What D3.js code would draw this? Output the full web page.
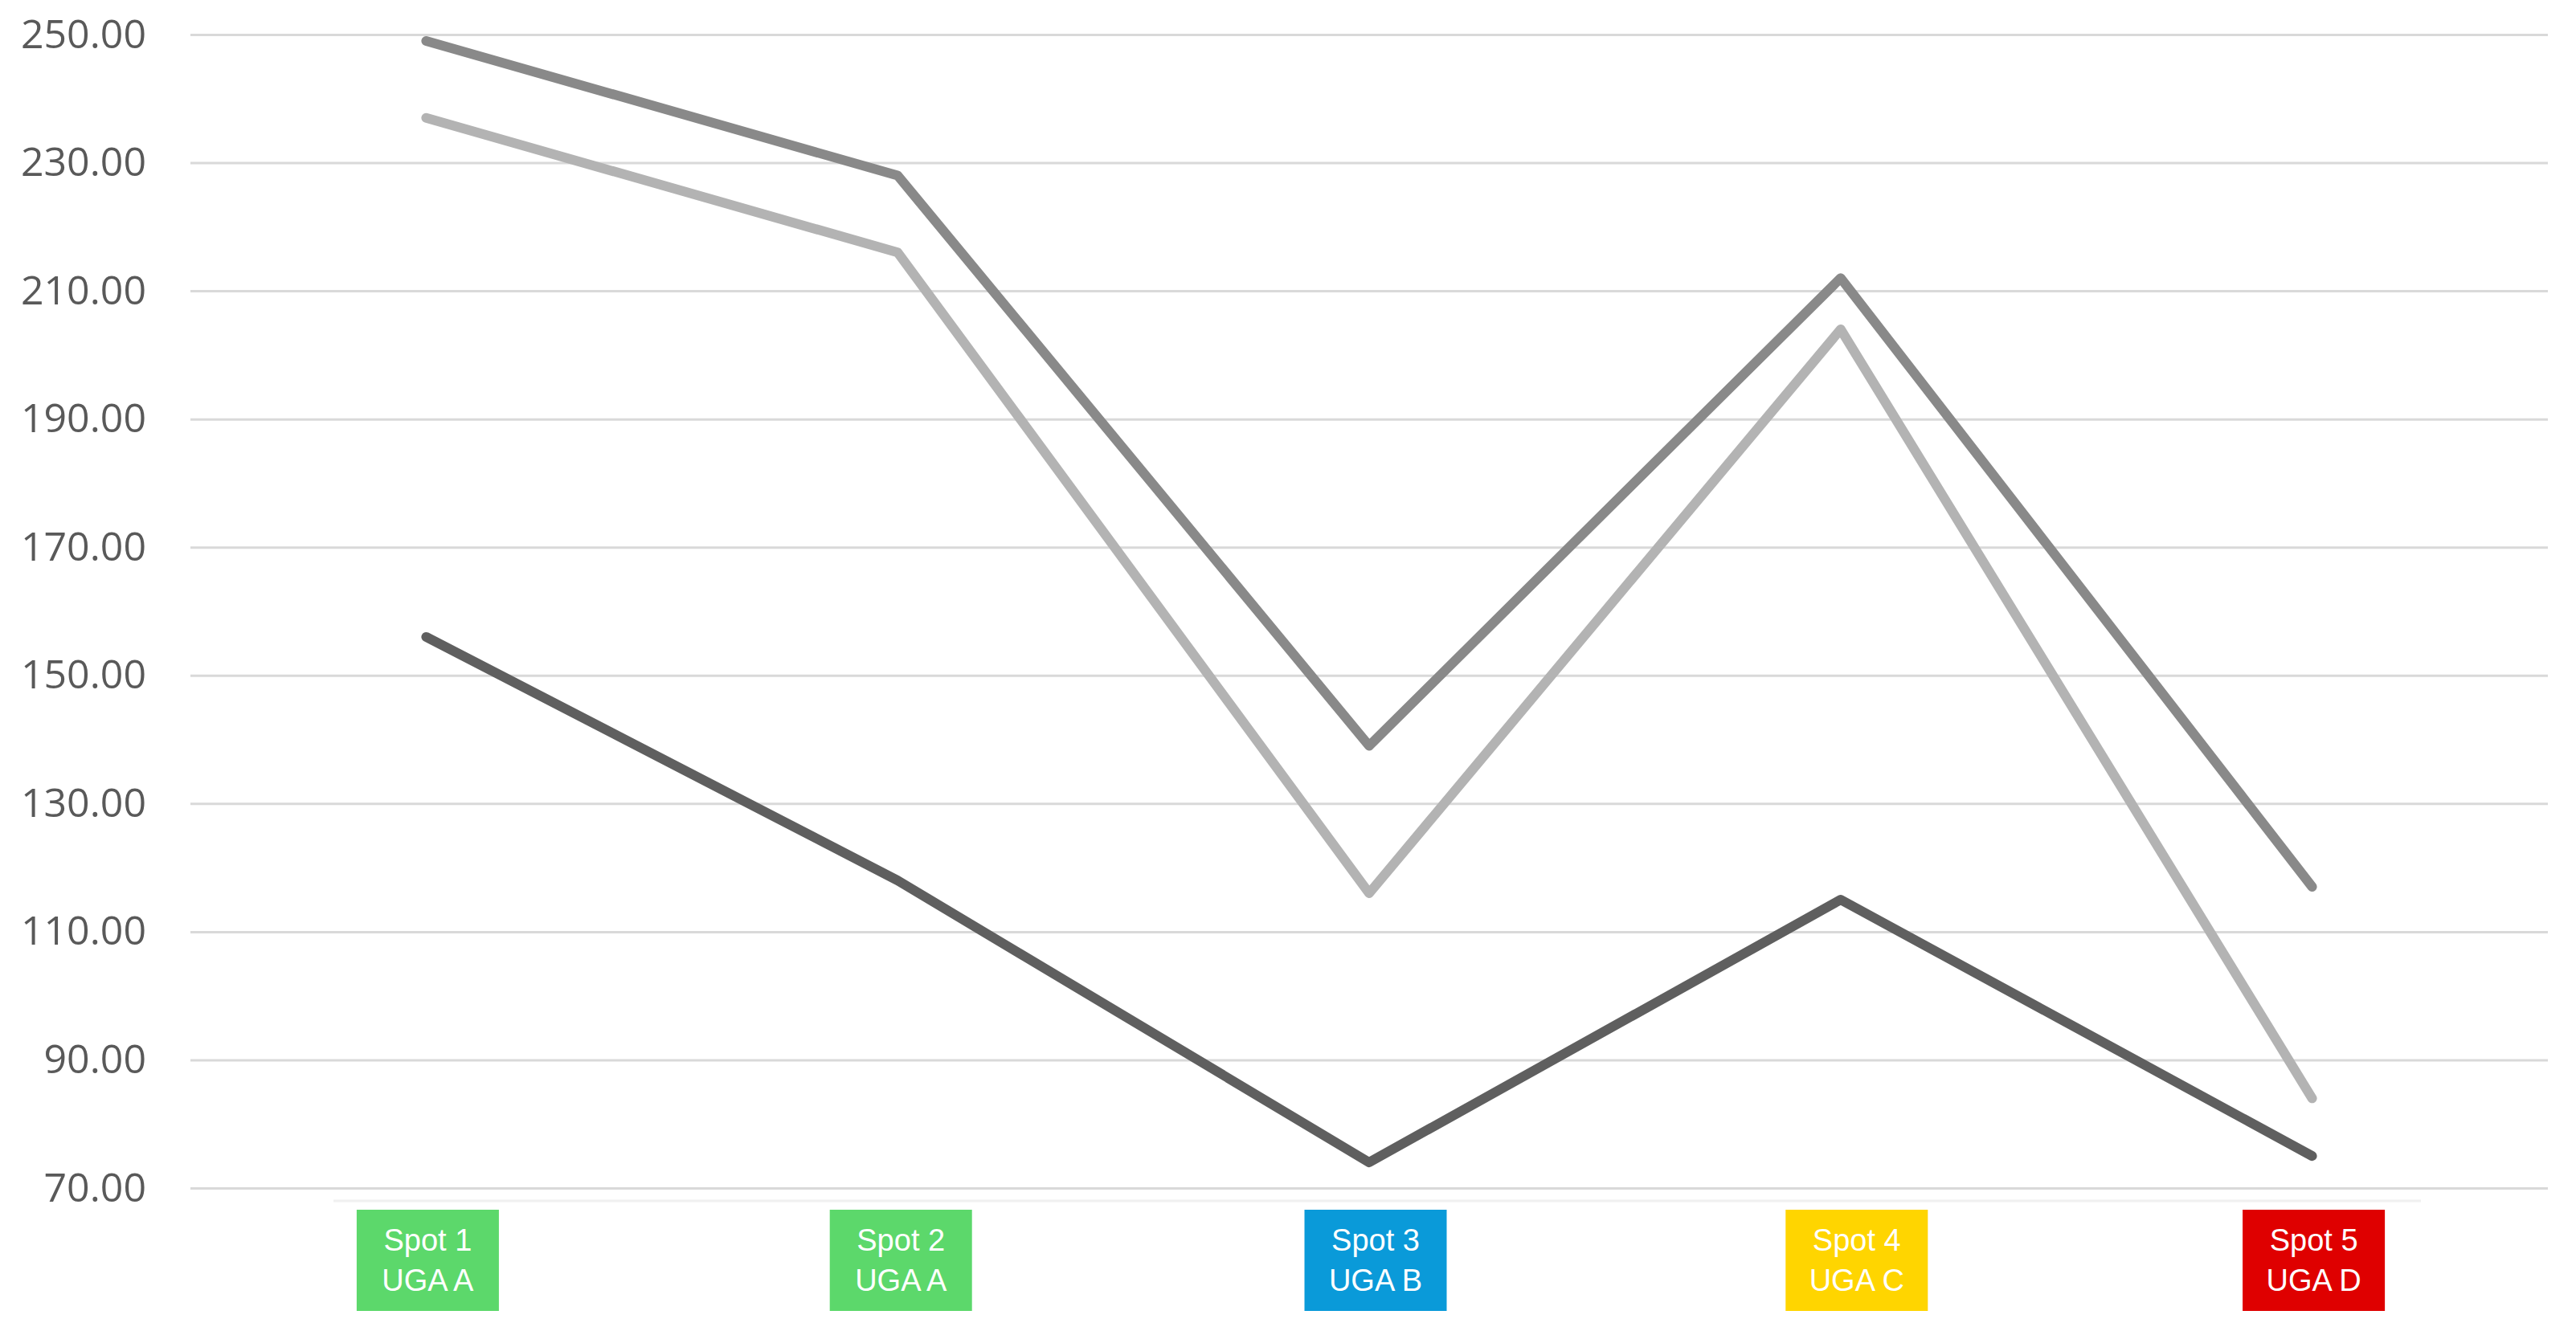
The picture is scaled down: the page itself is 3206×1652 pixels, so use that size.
<!DOCTYPE html>
<html>
<head>
<meta charset="utf-8">
<script src="https://cdn.jsdelivr.net/npm/d3@7"></script>
<style>
  html, body { margin: 0; padding: 0; background: #fff; }
  svg { display: block; }
</style>
</head>
<body>
<div id="chart"></div>
<script>
// chart data
const spots = ["Spot 1", "Spot 2", "Spot 3", "Spot 4", "Spot 5"];
const ugaLabels = ["UGA A", "UGA A", "UGA B", "UGA C", "UGA D"];
const spotColors = ["#5cd86b", "#5cd86b", "#0a9ad9", "#ffd500", "#df0000"];
const seriesTop = [249, 228, 139, 212, 117];
const seriesMid = [237, 216, 116, 204, 84];
const seriesLow = [156, 118, 74, 115, 75];
const yTicks = [70, 90, 110, 130, 150, 170, 190, 210, 230, 250];

const width = 3206, height = 1652;
const plotLeft = 237, plotRight = 3171, plotTop = 43, plotBottom = 1479;
// the label boxes in the original are pasted shapes, a little off-centre
const boxShift = [2, 4, 8, 20, 2];

const svg = d3.select("#chart").append("svg")
    .attr("width", width)
    .attr("height", height);

const x = d3.scalePoint().domain(spots).range([plotLeft, plotRight]).padding(0.5);
const y = d3.scaleLinear().domain([70, 250]).range([plotBottom, plotTop]);

// gridlines + labels
const yAxis = d3.axisLeft(y).tickValues(yTicks)
    .tickSize(-(plotRight - plotLeft))
    .tickPadding(55)
    .tickFormat(d3.format(".2f"));

const ga = svg.append("g")
    .attr("transform", "translate(" + plotLeft + ",0)")
    .call(yAxis);
ga.select(".domain").remove();
ga.selectAll(".tick line").attr("stroke", "#d9d9d9").attr("stroke-width", 3);
ga.selectAll(".tick text")
    .attr("fill", "#595959")
    .style("font-family", "'Open Sans', sans-serif")
    .style("font-size", "50px");

// faint axis line under the plot
svg.append("line")
    .attr("x1", 415).attr("x2", 3013)
    .attr("y1", 1495).attr("y2", 1495)
    .attr("stroke", "#f0f0f0").attr("stroke-width", 3);

const line = d3.line()
    .x((d, i) => x(spots[i]))
    .y(d => y(d));

const series = [
    { values: seriesMid, color: "#b3b3b3" },
    { values: seriesTop, color: "#898989" },
    { values: seriesLow, color: "#5f5f5f" }
];

svg.selectAll("path.series")
    .data(series)
    .enter().append("path")
    .attr("class", "series")
    .attr("d", d => line(d.values))
    .attr("fill", "none")
    .attr("stroke", d => d.color)
    .attr("stroke-width", 12)
    .attr("stroke-linecap", "round")
    .attr("stroke-linejoin", "round");

// category label boxes
const boxW = 177, boxH = 126, boxTop = 1506;
const cat = svg.selectAll("g.cat")
    .data(spots)
    .enter().append("g")
    .attr("class", "cat")
    .attr("transform", (d, i) => "translate(" + (x(d) + boxShift[i]) + "," + boxTop + ")");

cat.append("rect")
    .attr("x", -boxW / 2).attr("width", boxW)
    .attr("height", boxH)
    .attr("fill", (d, i) => spotColors[i]);

cat.append("text")
    .attr("text-anchor", "middle")
    .attr("y", 51)
    .attr("fill", "#fff")
    .style("font-family", "'Liberation Sans', Arial, sans-serif")
    .style("font-size", "38px")
    .text(d => d);

cat.append("text")
    .attr("text-anchor", "middle")
    .attr("y", 101)
    .attr("fill", "#fff")
    .style("font-family", "'Liberation Sans', Arial, sans-serif")
    .style("font-size", "38px")
    .text((d, i) => ugaLabels[i]);
</script>
</body>
</html>
